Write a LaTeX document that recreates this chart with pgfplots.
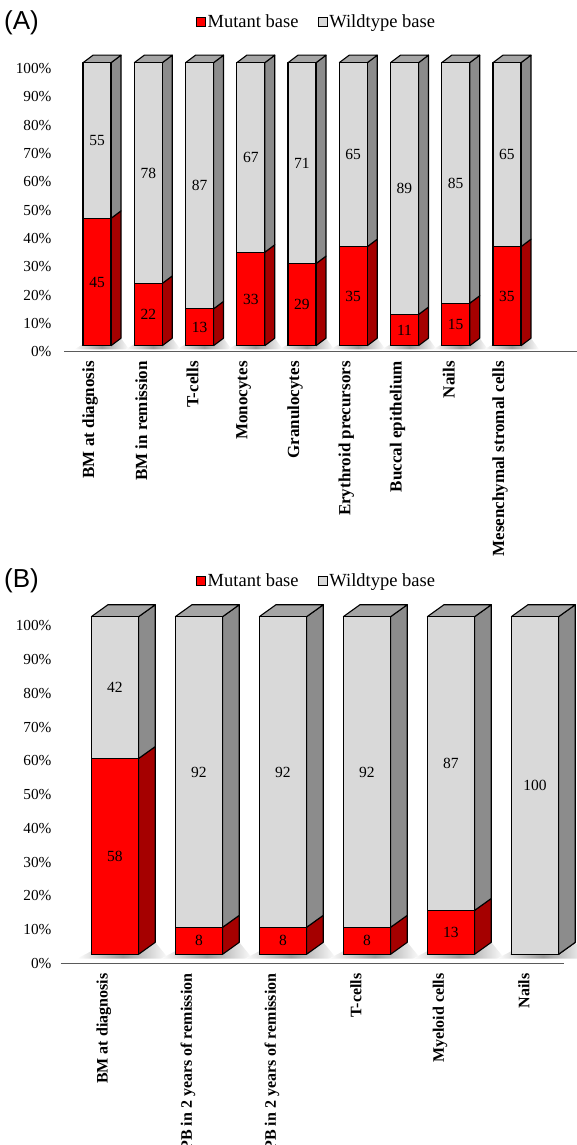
\documentclass[border=0pt]{standalone}
\usepackage{pgfplots}
\pgfplotsset{compat=1.18}
\usepackage{pgfplotstable}
\usepackage{fontspec}
\setmainfont{Liberation Serif}
\newfontfamily\sansfont{Liberation Sans}

\definecolor{gfront}{RGB}{217,217,217}
\definecolor{gside}{RGB}{140,140,140}
\definecolor{gtop}{RGB}{165,165,165}
\definecolor{rside}{RGB}{165,0,0}
\definecolor{axisgray}{RGB}{90,90,90}

\newcommand\tickfont{\fontsize{15.3}{18}\selectfont}
\newcommand\catfont{\bfseries\fontsize{17}{20}\selectfont}
\newcommand\catfontB{\bfseries\fontsize{16}{19}\selectfont}
\newcommand\valfont{\fontsize{15.5}{18}\selectfont}
\newcommand\legfont{\fontsize{18.5}{22}\selectfont}

\pgfplotstableread{
x mut wt
0 45 55
1 22 78
2 13 87
3 33 67
4 29 71
5 35 65
6 11 89
7 15 85
8 35 65
}\dataA

\pgfplotstableread{
x mut wt
0 58 42
1 8 92
2 8 92
3 8 92
4 13 87
5 0 100
}\dataB

% #1 x, #2 mutant, #3 total, #4 half width, #5 depth dx, #6 depth dy
\newcommand\barfaces[6]{%
 \pgfmathsetmacro\xR{#1+#4}%
 \pgfmathsetmacro\xRb{#1+#4+#5}%
 \pgfmathsetmacro\xL{#1-#4}%
 \pgfmathsetmacro\xLb{#1-#4+#5}%
 \pgfmathsetmacro\yM{#2+#6}%
 \pgfmathsetmacro\yT{#3+#6}%
 \pgfmathsetmacro\sL{#1-#4-0.17}%
 \pgfmathsetmacro\sR{#1+#4+#5+0.16}%
 \edef\doit{%
  \noexpand\addplot[shadowface] coordinates {(\sL,-1.3) (\sR,-1.3) (\xRb,#6) (\xLb,#6) (\sL,-1.3)};
  \noexpand\addplot[rsideface] coordinates {(\xR,0) (\xRb,#6) (\xRb,\yM) (\xR,#2) (\xR,0)};
  \noexpand\addplot[gsideface] coordinates {(\xR,#2) (\xRb,\yM) (\xRb,\yT) (\xR,#3) (\xR,#2)};
  \noexpand\addplot[gtopface] coordinates {(\xL,#3) (\xLb,\yT) (\xRb,\yT) (\xR,#3) (\xL,#3)};
 }\doit}

\pgfplotsset{
  panel/.style={
    scale only axis, clip=false,
    ymin=0, ymax=100,
    axis x line*=bottom, axis y line*=left,
    x axis line style={draw=axisgray, line width=1.6pt},
    y axis line style={draw=none},
    ytick={0,10,...,100},
    yticklabel={\pgfmathprintnumber{\tick}\%},
    /pgf/number format/assume math mode=true,
    major tick length=0pt,
    tick style={draw=none},
    yticklabel style={font=\tickfont},
    legend style={draw=none, fill=none, legend columns=2, font=\legfont,
      nodes={inner sep=1.5pt}, /tikz/every even column/.append style={column sep=18pt}},
    legend cell align=left,
    edge/.style={draw=black, line width=1.1pt, line join=round},
    shadowface/.style={draw=none, left color=white, right color=white, middle color=black!40, forget plot, faceshift},
    rsideface/.style={fill=rside, edge, forget plot, mark=none, faceshift},
    gsideface/.style={fill=gside, edge, forget plot, mark=none, faceshift},
    gtopface/.style={fill=gtop, edge, forget plot, mark=none, faceshift},
    labelplot/.style={draw=none, mark=none, forget plot,
      point meta=explicit, nodes near coords,
      every node near coord/.append style={anchor=center, yshift=\labshift, font=\valfont, text=black}},
  },
}

\begin{document}
\begin{tikzpicture}
%================ Panel A
\def\labshift{6pt}
\begin{axis}[panel,
  at={(64pt,793.3pt)}, anchor=south west,
  width=513pt, height=283pt,
  xmin=-0.644, xmax=9.366,
  faceshift/.style={yshift=6pt},
  xtick={0,...,8},
  xticklabels={BM at diagnosis, BM in remission, T-cells, Monocytes, Granulocytes, Erythroid precursors, Buccal epithelium, Nails, Mesenchymal stromal cells},
  xticklabel style={xshift=-7pt, yshift=-6pt, rotate=90, anchor=east, font=\catfont},
  yticklabel style={xshift=-9pt},
  legend style={at={(0.492,1.165)}, anchor=center},
]
\addlegendimage{legend image code/.code={\draw[fill=red, draw=black, line width=0.8pt] (0pt,-4.5pt) rectangle (9pt,4.5pt);}}
\addlegendentry{Mutant base}
\addlegendimage{legend image code/.code={\draw[fill=gfront, draw=black, line width=0.8pt] (0pt,-4.5pt) rectangle (9pt,4.5pt);}}
\addlegendentry{Wildtype base}
\pgfplotsforeachungrouped \i in {0,...,8}{%
  \pgfplotstablegetelem{\i}{mut}\of\dataA \let\curmut\pgfplotsretval
  \barfaces{\i}{\curmut}{100}{0.2732}{0.1951}{2.65}}
\addplot[ybar, bar width=0.5463, bar shift=0pt, fill=gfront, edge, forget plot, faceshift]
  table[x=x, y expr=\thisrow{mut}+\thisrow{wt}] {\dataA};
\addplot[ybar, bar width=0.5463, bar shift=0pt, fill=red, edge, forget plot, faceshift]
  table[x=x, y=mut] {\dataA};
\addplot[labelplot] table[x=x, y expr=\thisrow{mut}/2, meta=mut] {\dataA};
\addplot[labelplot] table[x=x, y expr=\thisrow{mut}+\thisrow{wt}/2, meta=wt] {\dataA};
\end{axis}
\node[font=\sansfont\fontsize{26}{30}\selectfont, anchor=west, inner sep=0pt] at (4pt,1122pt) {(A)};

%================ Panel B
\def\labshift{9.2pt}
\begin{axis}[panel,
  at={(60.5pt,181.5pt)}, anchor=south west,
  width=503.5pt, height=337.6pt,
  xmin=-0.648, xmax=5.346,
  faceshift/.style={yshift=9.2pt},
  xtick={0,...,5},
  xticklabels={BM at diagnosis, PB in 2 years of remission, PB in 2 years of remission, T-cells, Myeloid cells, Nails},
  xticklabel style={xshift=-11pt, yshift=-6.5pt, rotate=90, anchor=east, font=\catfontB},
  yticklabel style={xshift=-5.5pt},
  legend style={at={(0.5084,1.133)}, anchor=center},
]
\addlegendimage{legend image code/.code={\draw[fill=red, draw=black, line width=0.8pt] (0pt,-4.5pt) rectangle (9pt,4.5pt);}}
\addlegendentry{Mutant base}
\addlegendimage{legend image code/.code={\draw[fill=gfront, draw=black, line width=0.8pt] (0pt,-4.5pt) rectangle (9pt,4.5pt);}}
\addlegendentry{Wildtype base}
\pgfplotsforeachungrouped \i in {0,...,5}{%
  \pgfplotstablegetelem{\i}{mut}\of\dataB \let\curmut\pgfplotsretval
  \barfaces{\i}{\curmut}{100}{0.2815}{0.1988}{3.55}}
\addplot[ybar, bar width=0.5631, bar shift=0pt, fill=gfront, edge, forget plot, faceshift]
  table[x=x, y expr=\thisrow{mut}+\thisrow{wt}] {\dataB};
\addplot[ybar, bar width=0.5631, bar shift=0pt, fill=red, edge, forget plot, faceshift]
  table[x=x, y=mut] {\dataB};
\addplot[labelplot, skip coords between index={5}{6}] table[x=x, y expr=\thisrow{mut}/2, meta=mut] {\dataB};
\addplot[labelplot] table[x=x, y expr=\thisrow{mut}+\thisrow{wt}/2, meta=wt] {\dataB};
\end{axis}
\node[font=\sansfont\fontsize{26}{30}\selectfont, anchor=west, inner sep=0pt] at (4pt,564pt) {(B)};

\pgfresetboundingbox
\path[use as bounding box] (0pt,0pt) rectangle (577pt,1145pt);
\end{tikzpicture}
\end{document}
